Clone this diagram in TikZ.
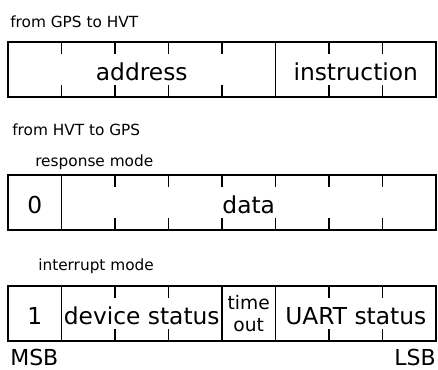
\documentclass[tikz,border=0pt]{standalone}
\usepackage{fontspec}
\setmainfont{DejaVu Sans}
\usetikzlibrary{positioning}

\newcommand{\headfont}{\fontsize{11.5}{14}\selectfont}
\newcommand{\fieldfont}{\fontsize{17.5}{20}\selectfont}
\newcommand{\smallfieldfont}{\fontsize{14}{17}\selectfont}

\begin{document}
\begin{tikzpicture}[x=0.75pt, y=-0.75pt,
	field/.style={
		rectangle, draw, line width=1.2pt, outer sep=0pt, inner sep=0pt,
		minimum height=41.25pt, font=\fieldfont, text height=16pt, text depth=0pt
	},
	twoline/.style={
		rectangle, draw, line width=1.2pt, outer sep=0pt, inner sep=0pt,
		minimum height=41.25pt, minimum width=40.125pt,
		font=\smallfieldfont, align=center
	},
	heading/.style={anchor=base west, inner sep=0pt, font=\headfont},
	bitlabel/.style={inner sep=0pt, font=\fontsize{16.5}{19}\selectfont},
	tick/.style={line width=1pt},
	]
	\useasboundingbox (0,0) rectangle (438,369);
	
	%from GPS to HVT
	\node[heading] (gpshvt) at (10,27) {from GPS to HVT};
	\node[field, anchor=north west, minimum width=5*40.125pt] (addr) at (8,42) {address};
	\node[field, right=0pt of addr, minimum width=3*40.125pt] (instr) {instruction};
	\foreach \k in {1,2,3,4,6,7} {
		\draw[tick] (8+\k*53.5,42) -- ++(0,12);
		\draw[tick] (8+\k*53.5,97) -- ++(0,-12);
	}
	
	%from HVT to GPS
	\node[heading] (hvtgps) at (12,135) {from HVT to GPS};
	\node[heading] (resp) at (35,166) {response mode};
	\node[field, anchor=north west, minimum width=40.125pt] (zero) at (8,175) {0};
	\node[field, right=0pt of zero, minimum width=7*40.125pt] (data) {data};
	\foreach \k in {2,...,7} {
		\draw[tick] (8+\k*53.5,175) -- ++(0,12);
		\draw[tick] (8+\k*53.5,230) -- ++(0,-12);
	}
	
	%interrupt
	\node[heading] (intr) at (38,270) {interrupt mode};
	\node[field, anchor=north west, minimum width=40.125pt] (one) at (8,286) {1};
	\node[field, right=0pt of one, minimum width=3*40.125pt] (dev) {device status};
	\node[twoline, right=0pt of dev] (tout) {time\\out};
	\node[field, right=0pt of tout, minimum width=3*40.125pt] (uart) {UART status};
	\foreach \k in {2,3,6,7} {
		\draw[tick] (8+\k*53.5,286) -- ++(0,12);
		\draw[tick] (8+\k*53.5,341) -- ++(0,-12);
	}
	
	\node[bitlabel, anchor=base west] (msb) at (10,365) {MSB};
	\node[bitlabel, anchor=base east] (lsb) at (436,365) {LSB};
\end{tikzpicture}
\end{document}
